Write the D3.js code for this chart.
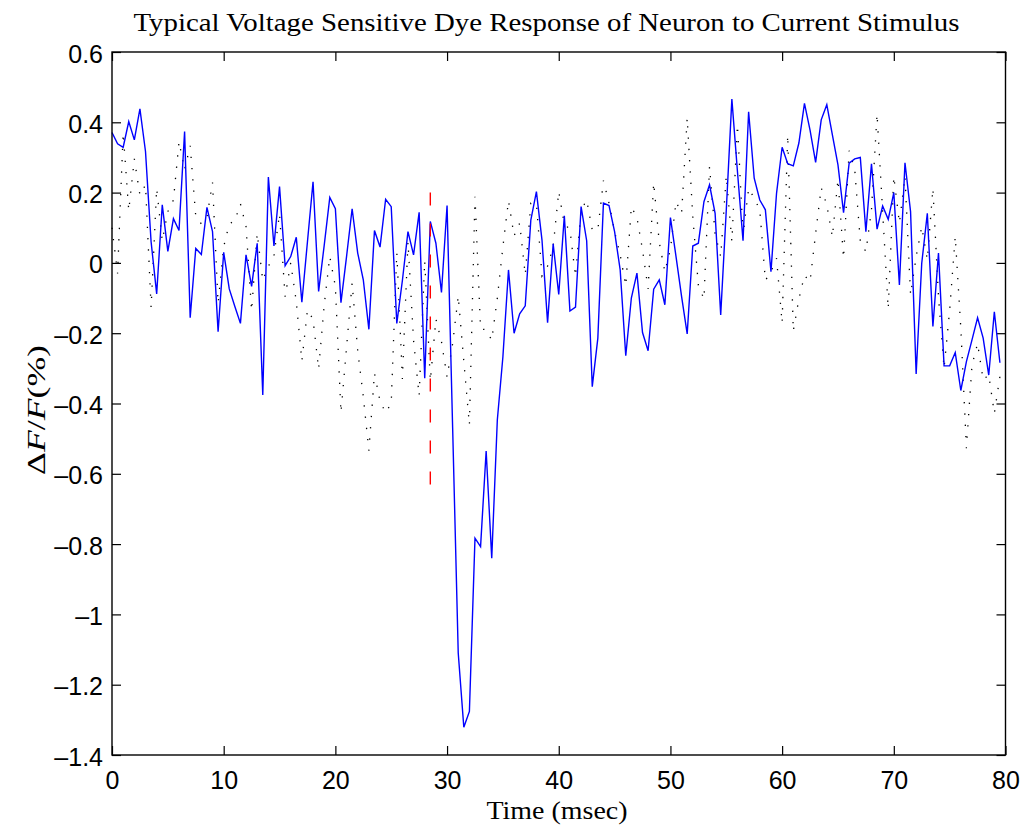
<!DOCTYPE html>
<html>
<head>
<meta charset="utf-8">
<script src="https://cdn.jsdelivr.net/npm/d3@7"></script>
<style>
  body { margin: 0; background: white; }
  .tick text { font-family: "Liberation Sans", Arial, sans-serif; font-size: 25px; fill: black; }
</style>
</head>
<body>
<script>
// Sample spacing (msec) of the recording
const timeStep = 0.5;

// Delta F / F (%) for the averaged trace (blue, solid)
const responseTrace = [
    0.371, 0.339, 0.329, 0.402, 0.350, 0.438, 0.317, 0.060, -0.088, 0.165,
    0.033, 0.126, 0.092, 0.374, -0.156, 0.041, 0.024, 0.158, 0.089, -0.196,
    0.030, -0.074, -0.124, -0.172, 0.023, -0.067, 0.056, -0.376, 0.244, 0.048,
    0.217, -0.008, 0.018, 0.073, -0.112, 0.060, 0.231, -0.081, 0.050, 0.186,
    0.154, -0.113, 0.018, 0.154, 0.028, -0.048, -0.189, 0.092, 0.045, 0.181,
    0.160, -0.172, -0.050, 0.089, 0.023, 0.144, -0.328, 0.118, 0.056, -0.084,
    0.163, -0.470, -1.110, -1.321, -1.276, -0.783, -0.807, -0.535, -0.840, -0.447,
    -0.267, -0.020, -0.200, -0.145, -0.122, 0.122, 0.203, 0.065, -0.170, 0.054,
    -0.090, 0.134, -0.137, -0.126, 0.160, 0.063, -0.352, -0.214, 0.170, 0.163,
    0.089, -0.020, -0.264, -0.100, -0.029, -0.198, -0.250, -0.075, -0.048, -0.119,
    0.129, 0.018, -0.096, -0.202, 0.048, 0.056, 0.174, 0.222, 0.141, -0.148,
    0.150, 0.466, 0.260, 0.063, 0.430, 0.241, 0.179, 0.151, -0.025, 0.198,
    0.329, 0.282, 0.276, 0.341, 0.454, 0.378, 0.286, 0.407, 0.450, 0.364,
    0.279, 0.143, 0.284, 0.296, 0.300, 0.089, 0.282, 0.096, 0.162, 0.124,
    0.200, -0.063, 0.285, 0.146, -0.316, -0.001, 0.141, -0.181, 0.028, -0.293,
    -0.293, -0.255, -0.363, -0.281, -0.219, -0.156, -0.214, -0.319, -0.139, -0.284
];

// Delta F / F (%) for the control trace (black, dotted)
const controlTrace = [
    0.100, -0.030, 0.370, 0.149, 0.296, 0.193, 0.222, -0.127, 0.212, 0.063,
    0.146, 0.179, 0.345, 0.265, 0.333, 0.132, 0.111, 0.130, 0.229, -0.115,
    0.046, 0.111, 0.120, 0.168, 0.103, -0.136, 0.084, -0.050, -0.010, 0.020,
    0.140, -0.096, 0.000, -0.110, -0.279, -0.134, -0.160, -0.302, -0.120, 0.018,
    -0.067, -0.426, -0.240, -0.058, -0.250, -0.380, -0.534, -0.314, -0.394, -0.426,
    -0.400, 0.030, -0.330, 0.060, -0.220, -0.378, 0.006, -0.335, -0.160, -0.224,
    -0.325, -0.230, -0.094, -0.280, -0.461, 0.188, -0.188, -0.190, -0.220, -0.100,
    0.046, 0.177, 0.077, 0.113, -0.034, 0.170, 0.170, -0.037, -0.009, 0.046,
    0.203, 0.110, 0.096, -0.039, 0.150, 0.179, 0.094, 0.094, 0.234, 0.170,
    0.089, 0.023, -0.065, 0.160, 0.129, 0.037, -0.074, 0.228, 0.058, -0.025,
    0.039, 0.174, 0.141, 0.412, 0.132, -0.063, -0.103, 0.274, 0.083, 0.018,
    0.248, 0.061, 0.393, 0.080, 0.212, 0.184, 0.151, -0.050, -0.025, 0.013,
    -0.171, 0.364, -0.194, -0.103, -0.036, -0.053, 0.084, 0.214, 0.165, 0.074,
    0.238, 0.013, 0.319, 0.267, 0.061, 0.032, 0.151, 0.424, 0.146, -0.131,
    0.246, 0.113, 0.246, -0.091, 0.018, 0.103, 0.009, 0.212, -0.096, -0.299,
    -0.134, 0.075, -0.186, -0.527, -0.291, -0.229, -0.333, -0.318, -0.428, -0.323
];

// Stimulus onset marker
const stimulusTime = [28.5, 28.5];
const stimulusLevels = [0.2, -0.665];

// Tick labels
const xTicks = [0, 10, 20, 30, 40, 50, 60, 70, 80];
const yTicks = [-1.4, -1.2, -1, -0.8, -0.6, -0.4, -0.2, 0, 0.2, 0.4, 0.6];

const W = 1023, H = 827;
const margin = { top: 52, right: 17.5, bottom: 72, left: 112 };

const svg = d3.select("body")
              .append("svg")
              .attr("width", W)
              .attr("height", H)
              .style("background-color", "white");

const x = d3.scaleLinear().domain([0, 80]).range([margin.left, W - margin.right]);
const y = d3.scaleLinear().domain([-1.4, 0.6]).range([H - margin.bottom, margin.top]);

const fmt = (d) => d < 0 ? "\u2013" + d3.format("~g")(-d) : d3.format("~g")(d);

// Ticks point inward, labels only on bottom and left
const tickLen = 9;
const axisB = svg.append("g")
                 .attr("transform", `translate(0,${y.range()[0]})`)
                 .call(d3.axisBottom(x).tickValues(xTicks).tickSizeInner(-tickLen).tickSizeOuter(0).tickPadding(16).tickFormat(fmt));
const axisL = svg.append("g")
                 .attr("transform", `translate(${x.range()[0]},0)`)
                 .call(d3.axisLeft(y).tickValues(yTicks).tickSizeInner(-tickLen).tickSizeOuter(0).tickPadding(9).tickFormat(fmt));
const axisT = svg.append("g")
                 .attr("transform", `translate(0,${y.range()[1]})`)
                 .call(d3.axisTop(x).tickValues(xTicks).tickSizeInner(-tickLen).tickSizeOuter(0).tickFormat(""));
const axisR = svg.append("g")
                 .attr("transform", `translate(${x.range()[1]},0)`)
                 .call(d3.axisRight(y).tickValues(yTicks).tickSizeInner(-tickLen).tickSizeOuter(0).tickFormat(""));

[axisB, axisL, axisT, axisR].forEach(g => {
    g.select(".domain").remove();
    g.selectAll(".tick line").attr("stroke", "black").attr("stroke-width", 1.2);
});
axisL.selectAll(".tick text").attr("dy", "0.4em");

// Traces
const times = responseTrace.map((_, i) => i * timeStep);
const line = d3.line().x((d, i) => x(times[i])).y(d => y(d));

svg.append("path")
   .datum(controlTrace)
   .attr("d", line)
   .attr("fill", "none")
   .attr("stroke", "black")
   .attr("stroke-width", 1.3)
   .attr("stroke-dasharray", "1.3,10");

svg.append("path")
   .datum(responseTrace)
   .attr("d", line)
   .attr("fill", "none")
   .attr("stroke", "#0000ff")
   .attr("stroke-width", 1.4)
   .attr("stroke-linejoin", "miter");

svg.append("line")
   .attr("x1", x(stimulusTime[0])).attr("x2", x(stimulusTime[1]))
   .attr("y1", y(stimulusLevels[0])).attr("y2", y(stimulusLevels[1]))
   .attr("stroke", "#ff0000")
   .attr("stroke-width", 1.4)
   .attr("stroke-dasharray", "13,18");

// Axes box
svg.append("rect")
   .attr("x", x.range()[0])
   .attr("y", y.range()[1])
   .attr("width", x.range()[1] - x.range()[0])
   .attr("height", y.range()[0] - y.range()[1])
   .attr("fill", "none")
   .attr("stroke", "black")
   .attr("stroke-width", 1.4);

// Labels
const serif = "'Liberation Serif', 'Times New Roman', serif";

svg.append("text")
   .attr("x", 546.5)
   .attr("y", 31)
   .attr("text-anchor", "middle")
   .attr("font-family", serif)
   .attr("font-size", 25)
   .attr("textLength", 826)
   .attr("lengthAdjust", "spacingAndGlyphs")
   .text("Typical Voltage Sensitive Dye Response of Neuron to Current Stimulus");

svg.append("text")
   .attr("x", 557)
   .attr("y", 819)
   .attr("text-anchor", "middle")
   .attr("font-family", serif)
   .attr("font-size", 25)
   .attr("textLength", 141)
   .attr("lengthAdjust", "spacingAndGlyphs")
   .text("Time (msec)");

const ylab = svg.append("text")
                .attr("transform", "translate(45,410) rotate(-90)")
                .attr("text-anchor", "middle")
                .attr("font-family", serif)
                .attr("font-size", 26)
                .attr("textLength", 130)
                .attr("lengthAdjust", "spacingAndGlyphs");
ylab.append("tspan").text("\u0394");
ylab.append("tspan").attr("font-style", "italic").text("F");
ylab.append("tspan").text("/");
ylab.append("tspan").attr("font-style", "italic").text("F");
ylab.append("tspan").text("(%)");
</script>
</body>
</html>
